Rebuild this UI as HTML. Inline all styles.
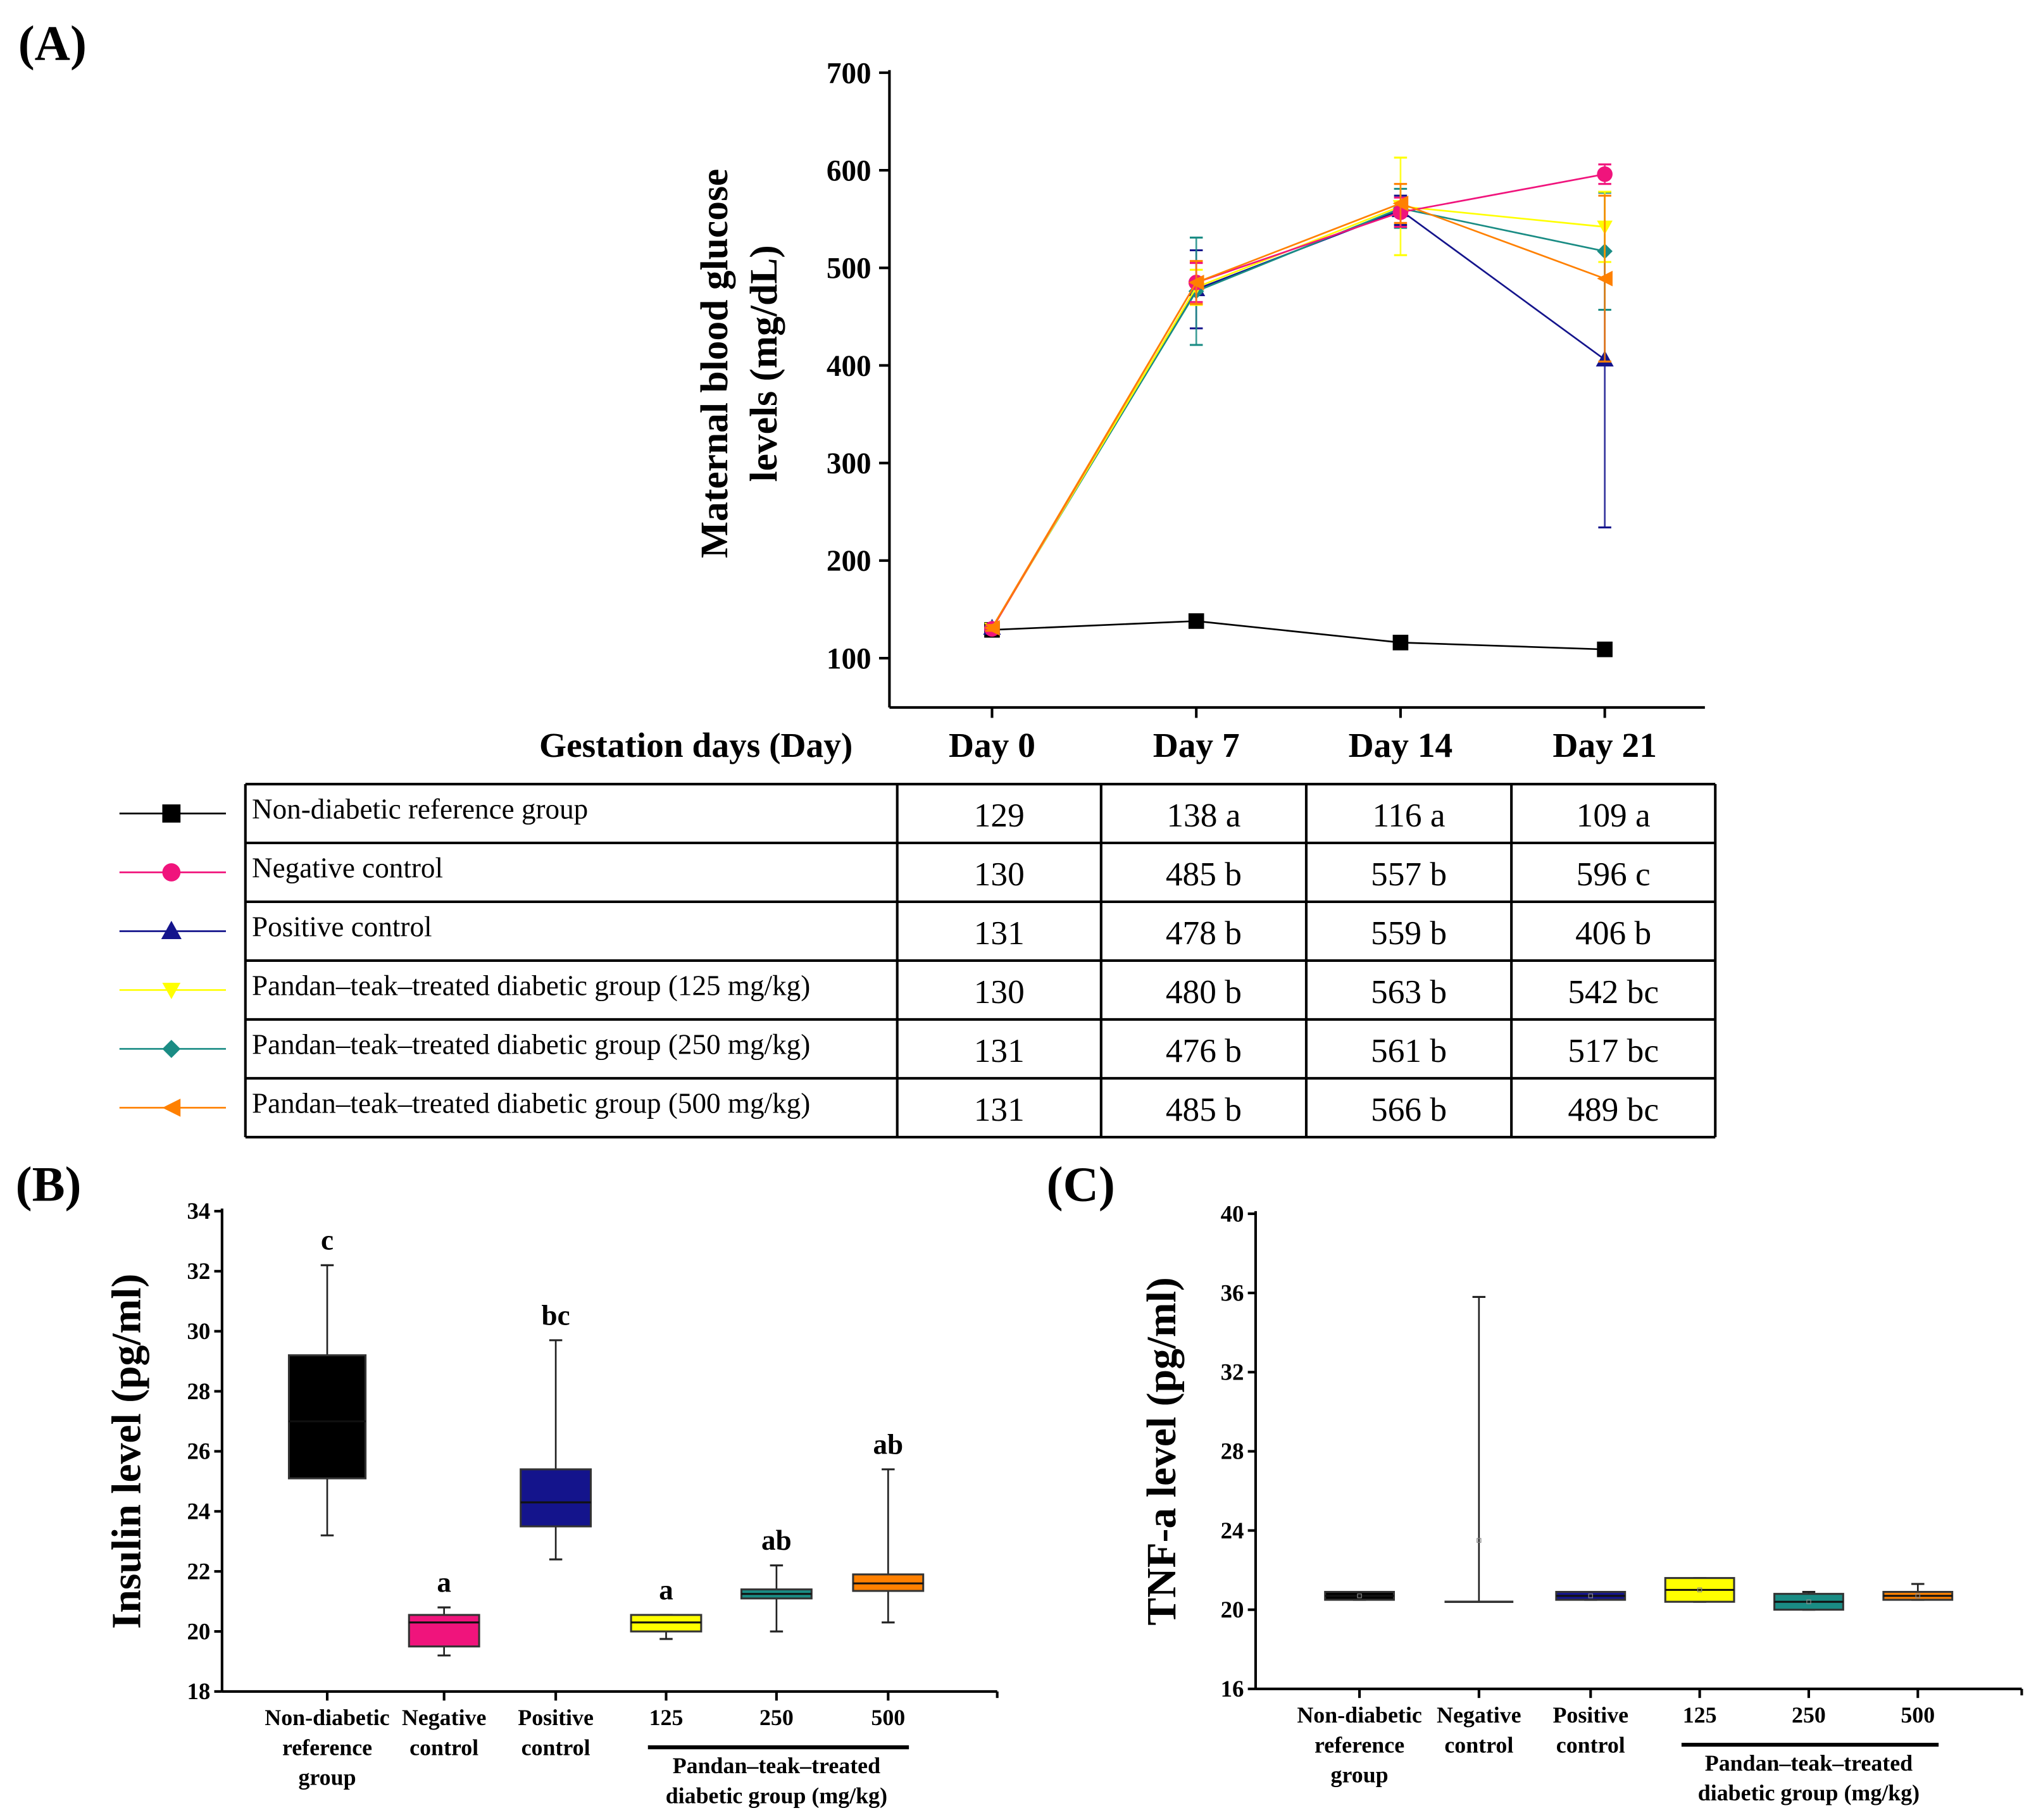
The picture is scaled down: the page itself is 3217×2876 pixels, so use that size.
<!DOCTYPE html>
<html><head><meta charset="utf-8"><style>
html,body{margin:0;padding:0;background:#fff;}
svg{display:block;font-family:"Liberation Serif",serif;}
.b{font-weight:bold;}
</style></head><body>
<svg id="s" xmlns="http://www.w3.org/2000/svg" width="3217" height="2876" viewBox="0 0 1568 1402" preserveAspectRatio="none">
<text x="14" y="46" font-size="38" class="b">(A)</text>
<text x="12" y="925" font-size="38" class="b">(B)</text>
<text x="806" y="925" font-size="38" class="b">(C)</text>
<g id="gA"></g>
<g id="gT"></g>
<g id="gB"></g>
<g id="gC"></g>
</svg>
<script>
// ---- Chart A data ----
const days = ["Day 0","Day 7","Day 14","Day 21"];
const groupNames = ["Non-diabetic reference group","Negative control","Positive control","Pandan\u2013teak\u2013treated diabetic group (125 mg/kg)","Pandan\u2013teak\u2013treated diabetic group (250 mg/kg)","Pandan\u2013teak\u2013treated diabetic group (500 mg/kg)"];
const nonDiabetic = [129,138,116,109];
const negControl = [130,485,557,596];
const posControl = [131,478,559,406];
const pt125 = [130,480,563,542];
const pt250 = [131,476,561,517];
const pt500 = [131,485,566,489];
const sdNon = [3,4,4,3];
const sdNeg = [3,20,15,10];
const sdPos = [3,40,15,172];
const sd125 = [3,18,50,36];
const sd250 = [3,55,20,60];
const sd500 = [3,22,20,85];
const letters = [["","a","a","a"],["","b","b","c"],["","b","b","b"],["","b","b","bc"],["","b","b","bc"],["","b","b","bc"]];
const yTicksA = [100,200,300,400,500,600,700];

// ---- Chart B data ----
const boxCats = ["Non-diabetic|reference|group","Negative|control","Positive|control","125","250","500"];
const insMin = [23.2,19.2,22.4,19.75,20.0,20.3];
const insQ1 = [25.1,19.5,23.5,20.0,21.1,21.35];
const insMed = [27.0,20.3,24.3,20.3,21.25,21.6];
const insQ3 = [29.2,20.55,25.4,20.55,21.4,21.9];
const insMax = [32.2,20.8,29.7,20.55,22.2,25.4];
const insLetters = ["c","a","bc","a","ab","ab"];
const yTicksB = [18,20,22,24,26,28,30,32,34];

// ---- Chart C data ----
const tnfMin = [20.5,20.4,20.5,20.4,20.0,20.5];
const tnfQ1 = [20.5,20.4,20.5,20.4,20.0,20.5];
const tnfMed = [20.7,20.4,20.7,21.0,20.4,20.7];
const tnfQ3 = [20.9,20.4,20.9,21.6,20.8,20.9];
const tnfMax = [20.9,35.8,20.9,21.6,20.9,21.3];
const tnfMean = [20.7,23.5,20.7,21.0,20.4,20.7];
const yTicksC = [16,20,24,28,32,36,40];

const colors = ["#000000","#f0147c","#14148c","#ffff00","#1a8c84","#ff8000"];
const NS="http://www.w3.org/2000/svg";
function mk(tag,attrs,parent,txt){const e=document.createElementNS(NS,tag);for(const k in attrs)e.setAttribute(k,attrs[k]);if(txt!==undefined)e.textContent=txt;parent.appendChild(e);return e;}

// ===== Chart A =====
const gA=document.getElementById('gA');
const ax0=685, ax1=1313, ayTop=56, ayBot=545;
const yA=v=>507-(v-100)*(451/600);
const xA=i=>764+i*157.3;
mk('line',{x1:ax0,y1:ayTop-2,x2:ax0,y2:ayBot,stroke:'#000','stroke-width':2},gA);
mk('line',{x1:ax0,y1:ayBot,x2:ax1,y2:ayBot,stroke:'#000','stroke-width':2},gA);
yTicksA.forEach(t=>{
  mk('line',{x1:ax0-8,y1:yA(t),x2:ax0,y2:yA(t),stroke:'#000','stroke-width':2},gA);
  const e=mk('text',{x:ax0-14,y:yA(t)+8,'font-size':23,'text-anchor':'end',class:'b'},gA,t);
  
  
});
days.forEach((d,i)=>{
  mk('line',{x1:xA(i),y1:ayBot,x2:xA(i),y2:ayBot+8,stroke:'#000','stroke-width':2},gA);
  const e=mk('text',{x:xA(i),y:583,'font-size':27,'text-anchor':'middle',class:'b'},gA,d);
  
  
});
{const e=mk('text',{x:536,y:583,'font-size':27,'text-anchor':'middle',class:'b'},gA,'Gestation days (Day)');}
{const e=mk('text',{transform:'translate(560,280) rotate(-90)','font-size':30,'text-anchor':'middle',class:'b'},gA,'Maternal blood glucose');
 const e2=mk('text',{transform:'translate(598,280) rotate(-90)','font-size':30,'text-anchor':'middle',class:'b'},gA,'levels (mg/dL)');}

function marker(g,kind,x,y,c,r){
  let e;
  if(kind===0) e=mk('rect',{x:x-r,y:y-r,width:2*r,height:2*r,fill:c},g);
  else if(kind===1) e=mk('circle',{cx:x,cy:y,r:r,fill:c},g);
  else if(kind===2) e=mk('polygon',{points:`${x},${y-r} ${x+r},${y+r*0.8} ${x-r},${y+r*0.8}`,fill:c,stroke:'#14148c'},g);
  else if(kind===3) e=mk('polygon',{points:`${x},${y+r} ${x+r},${y-r*0.8} ${x-r},${y-r*0.8}`,fill:c},g);
  else if(kind===4) e=mk('polygon',{points:`${x},${y-r} ${x+r},${y} ${x},${y+r} ${x-r},${y}`,fill:c},g);
  else e=mk('polygon',{points:`${x-r},${y} ${x+r},${y-r} ${x+r},${y+r}`,fill:c},g);
  return e;
}
const series=[nonDiabetic,negControl,posControl,pt125,pt250,pt500];
const sds=[sdNon,sdNeg,sdPos,sd125,sd250,sd500];
const order=[0,2,4,3,1,5];
order.forEach(s=>{
  const g=mk('g',{},gA);
  
  
  const c=colors[s];
  series[s].forEach((v,i)=>{
    const lo=yA(v-sds[s][i]), hi=yA(v+sds[s][i]);
    mk('line',{x1:xA(i),y1:lo,x2:xA(i),y2:hi,stroke:c,'stroke-width':1.3,opacity:0.85},g);
    mk('line',{x1:xA(i)-5,y1:lo,x2:xA(i)+5,y2:lo,stroke:c,'stroke-width':1.5},g);
    mk('line',{x1:xA(i)-5,y1:hi,x2:xA(i)+5,y2:hi,stroke:c,'stroke-width':1.5},g);
  });
  mk('polyline',{points:series[s].map((v,i)=>xA(i)+','+yA(v)).join(' '),fill:'none',stroke:c,'stroke-width':1.3},g);
  series[s].forEach((v,i)=>{const m=marker(g,s,xA(i),yA(v),c,6);});
});

// ===== Table =====
const gT=document.getElementById('gT');
const cols=[189,691,848,1006,1164,1321], rowTop=604, rowH=45.33;
for(let r=0;r<=6;r++) mk('line',{x1:189,y1:rowTop+r*rowH,x2:1321,y2:rowTop+r*rowH,stroke:'#000','stroke-width':2},gT);
cols.forEach(x=>mk('line',{x1:x,y1:rowTop,x2:x,y2:rowTop+6*rowH,stroke:'#000','stroke-width':2},gT));
groupNames.forEach((n,r)=>{
  const cy=rowTop+r*rowH+rowH/2;
  const lg=mk('g',{},gT);
  
  
  mk('line',{x1:92,y1:cy,x2:174,y2:cy,stroke:colors[r],'stroke-width':1.3},lg);
  marker(lg,r,132,cy,colors[r],7);
  const t=mk('text',{x:194,y:cy+4,'font-size':22},gT,n);
  
  
  series[r].forEach((v,i)=>{
    const txt=v+(letters[r][i]?' '+letters[r][i]:'');
    const e=mk('text',{x:(cols[i+1]+cols[i+2])/2,y:cy+10,'font-size':26,'text-anchor':'middle'},gT,txt);
    
    
  });
});

// ===== Box charts =====
function boxChart(g,o){
  const y=v=>o.yb-(v-o.t0)*(o.yb-o.yt)/(o.t1-o.t0);
  mk('line',{x1:o.x0,y1:o.yt-2,x2:o.x0,y2:o.yb,stroke:'#000','stroke-width':2},g);
  mk('line',{x1:o.x0,y1:o.yb,x2:o.x1,y2:o.yb,stroke:'#000','stroke-width':2},g);
  mk('line',{x1:o.x1,y1:o.yb,x2:o.x1,y2:o.yb+5,stroke:'#000','stroke-width':2},g);
  o.ticks.forEach(t=>{
    mk('line',{x1:o.x0-6,y1:y(t),x2:o.x0,y2:y(t),stroke:'#000','stroke-width':2},g);
    const e=mk('text',{x:o.x0-9,y:y(t)+6,'font-size':18,'text-anchor':'end',class:'b'},g,t);
    
    
  });
  const e=mk('text',{transform:`translate(${o.tx},${(o.yt+o.yb)/2}) rotate(-90)`,'font-size':32,'text-anchor':'middle',class:'b'},g,o.title);
  
  
  boxCats.forEach((c,i)=>{
    const x=o.cx[i], w=o.w[i];
    mk('line',{x1:x,y1:o.yb,x2:x,y2:o.yb+7,stroke:'#000','stroke-width':2},g);
    c.split('|').forEach((ln,k)=>{
      const t=mk('text',{x:x,y:o.yb+26+k*23,'font-size':17.5,'text-anchor':'middle',class:'b'},g,ln);
      
      
    });
    const bg=mk('g',{},g);
    
    
    mk('line',{x1:x,y1:y(o.mn[i]),x2:x,y2:y(o.mx[i]),stroke:'#222','stroke-width':1.3},bg);
    mk('line',{x1:x-5,y1:y(o.mn[i]),x2:x+5,y2:y(o.mn[i]),stroke:'#222','stroke-width':1.5},bg);
    mk('line',{x1:x-5,y1:y(o.mx[i]),x2:x+5,y2:y(o.mx[i]),stroke:'#222','stroke-width':1.5},bg);
    const h=Math.max(y(o.q1[i])-y(o.q3[i]),0);
    if(h>0){
      mk('rect',{x:x-w/2,y:y(o.q3[i]),width:w,height:h,fill:colors[i],stroke:'#333','stroke-width':1.5},bg);
      mk('line',{x1:x-w/2,y1:y(o.md[i]),x2:x+w/2,y2:y(o.md[i]),stroke:'#111','stroke-width':1.5},bg);
    } else {
      mk('line',{x1:x-w/2,y1:y(o.q1[i]),x2:x+w/2,y2:y(o.q1[i]),stroke:'#333','stroke-width':1.8},bg);
    }
    if(o.mean) mk('rect',{x:x-1.5,y:y(o.mean[i])-1.5,width:3,height:3,fill:'none',stroke:'#888','stroke-width':0.6},bg);
    if(o.letters){
      const l=mk('text',{x:x,y:y(o.mx[i])-12,'font-size':22,'text-anchor':'middle',class:'b'},g,o.letters[i]);
      
      
    }
  });
  mk('line',{x1:o.cx[3]-14,y1:o.yb+43,x2:o.cx[5]+16,y2:o.yb+43,stroke:'#000','stroke-width':3},g);
  ['Pandan\u2013teak\u2013treated','diabetic group (mg/kg)'].forEach((ln,k)=>{
    const t=mk('text',{x:o.cx[4],y:o.yb+63+k*23,'font-size':17.5,'text-anchor':'middle',class:'b'},g,ln);
    
    
  });
}
boxChart(document.getElementById('gB'),{x0:171,x1:768,yt:933,yb:1303,t0:18,t1:34,ticks:yTicksB,tx:108,title:'Insulin level (pg/ml)',
  cx:[252,342,428,513,598,684],w:[59,54,54,54,54,54],mn:insMin,q1:insQ1,md:insMed,q3:insQ3,mx:insMax,letters:insLetters});
boxChart(document.getElementById('gC'),{x0:967,x1:1557,yt:935,yb:1301,t0:16,t1:40,ticks:yTicksC,tx:905,title:'TNF-a level (pg/ml)',
  cx:[1047,1139,1225,1309,1393,1477],w:[53,53,53,53,53,53],mn:tnfMin,q1:tnfQ1,md:tnfMed,q3:tnfQ3,mx:tnfMax,mean:tnfMean});
</script>
</body></html>
